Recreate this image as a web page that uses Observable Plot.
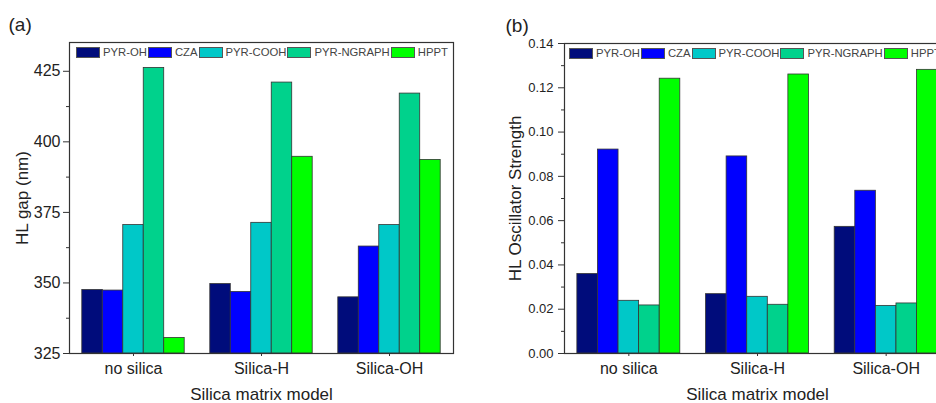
<!DOCTYPE html>
<html>
<head>
<meta charset="utf-8">
<script src="https://cdn.jsdelivr.net/npm/d3@7"></script>
<script src="https://cdn.jsdelivr.net/npm/@observablehq/plot@0.6"></script>
<style>
  html, body { margin: 0; padding: 0; background: #fff; overflow: hidden; }
  #wrap { position: relative; width: 936px; height: 403px; overflow: hidden; font-family: "Liberation Sans", Arial, sans-serif; }
  .panel { position: absolute; top: 0; height: 403px; }
  .panel svg { max-width: none !important; display: block; }
  .legend { position: absolute; display: flex; align-items: center; font-size: 11.3px; color: #444; white-space: nowrap; line-height: 11px; }
  .sw { display: inline-block; width: 22px; height: 9px; border: 1px solid #555; margin-right: 3px; }
  .lab { margin-right: 1px; }
</style>
</head>
<body>
<div id="wrap"></div>
<script>
// ---- data ----
const groups = ["no silica", "Silica-H", "Silica-OH"];
const seriesNames = ["PYR-OH", "CZA", "PYR-COOH", "PYR-NGRAPH", "HPPT"];
const seriesColors = ["#000c7b", "#0000ff", "#00c8c8", "#00d28c", "#00ff00"];

// HL gap (nm), per series, in group order
const gapPYR_OH     = [347.5, 349.6, 344.9];
const gapCZA        = [347.3, 346.8, 362.9];
const gapPYR_COOH   = [370.5, 371.3, 370.5];
const gapPYR_NGRAPH = [426.2, 421.0, 417.1];
const gapHPPT       = [330.5, 394.7, 393.6];

// HL oscillator strength, per series, in group order
const oscPYR_OH     = [0.0359, 0.0268, 0.0572];
const oscCZA        = [0.0921, 0.0890, 0.0735];
const oscPYR_COOH   = [0.0238, 0.0256, 0.0215];
const oscPYR_NGRAPH = [0.0217, 0.0220, 0.0226];
const oscHPPT       = [0.1241, 0.1260, 0.1281];

const gapTicks = [325, 350, 375, 400, 425];
const gapMinor = [337.5, 362.5, 387.5, 412.5];
const oscTicks = [0, 0.02, 0.04, 0.06, 0.08, 0.10, 0.12, 0.14];
const oscMinor = [0.01, 0.03, 0.05, 0.07, 0.09, 0.11, 0.13];

function table(seriesArrays) {
  const rows = [];
  seriesArrays.forEach((vals, si) => {
    vals.forEach((v, gi) => rows.push({group: groups[gi], gi, series: seriesNames[si], si, value: v}));
  });
  return rows;
}
const gapData = table([gapPYR_OH, gapCZA, gapPYR_COOH, gapPYR_NGRAPH, gapHPPT]);
const oscData = table([oscPYR_OH, oscCZA, oscPYR_COOH, oscPYR_NGRAPH, oscHPPT]);

const groupPad = 0.1;
const barW = (1 - 2 * groupPad) / seriesNames.length;

function panel({data, yDomain, ticks, minor, yLabel, tag, width, marginLeft, marginRight, marginTop, yTickFont, yTickPad, yLabelDx, tagDx, fmt}) {
  return Plot.plot({
    width, height: 403,
    marginLeft, marginRight, marginTop, marginBottom: 50,
    style: {fontFamily: '"Liberation Sans", Arial, sans-serif', color: "#222", background: "white", overflow: "visible", maxWidth: "none"},
    x: {type: "linear", domain: [0, groups.length]},
    y: {domain: yDomain},
    color: {domain: seriesNames, range: seriesColors},
    marks: [
      Plot.rect(data, {
        x1: d => d.gi + groupPad + d.si * barW,
        x2: d => d.gi + groupPad + (d.si + 1) * barW,
        y1: yDomain[0],
        y2: "value",
        fill: "series",
        stroke: "#333",
        strokeWidth: 0.8
      }),
      Plot.axisY({ticks, tickSize: 6, tickPadding: yTickPad, tickFormat: fmt, fontSize: yTickFont, label: null, stroke: "#333"}),
      Plot.axisY({ticks: minor, tickSize: 3, tickFormat: () => "", label: null, stroke: "#333"}),
      Plot.axisX({ticks: groups.map((g, i) => i + 0.5), tickFormat: v => groups[Math.floor(v)], tickSize: 3, tickPadding: 6, fontSize: 16, label: null, stroke: "#333"}),
      Plot.frame({stroke: "#333", strokeWidth: 1.2}),
      Plot.text([yLabel], {frameAnchor: "left", dx: yLabelDx, rotate: -90, fontSize: 17, fill: "#222", textAnchor: "middle", lineAnchor: "middle"}),
      Plot.text(["Silica matrix model"], {frameAnchor: "bottom", dy: 41, fontSize: 17, fill: "#222", lineAnchor: "middle"}),
      Plot.text([tag], {frameAnchor: "top-left", dx: tagDx, dy: -18, fontSize: 19, fill: "#222", textAnchor: "start", lineAnchor: "middle"})
    ]
  });
}

function legend(left, top) {
  const el = document.createElement("div");
  el.className = "legend";
  el.style.left = left + "px";
  el.style.top = top + "px";
  seriesNames.forEach((name, i) => {
    const sw = document.createElement("span");
    sw.className = "sw";
    sw.style.background = seriesColors[i];
    const lab = document.createElement("span");
    lab.className = "lab";
    lab.textContent = name;
    el.appendChild(sw);
    el.appendChild(lab);
  });
  return el;
}

const wrap = document.getElementById("wrap");

const pa = document.createElement("div");
pa.className = "panel";
pa.style.left = "0px";
pa.style.width = "470px";
pa.appendChild(panel({
  data: gapData, yDomain: [325, 435.2], ticks: gapTicks, minor: gapMinor,
  yLabel: "HL gap (nm)", tag: "(a)", width: 470, marginLeft: 69, marginRight: 17, marginTop: 42,
  yTickFont: 16, yTickPad: 3, yLabelDx: -46.5, tagDx: -61, fmt: d3.format("d")
}));
pa.appendChild(legend(76, 47));
wrap.appendChild(pa);

const pb = document.createElement("div");
pb.className = "panel";
pb.style.left = "470px";
pb.style.width = "500px";
pb.appendChild(panel({
  data: oscData, yDomain: [0, 0.14], ticks: oscTicks, minor: oscMinor,
  yLabel: "HL Oscillator Strength", tag: "(b)", width: 500, marginLeft: 94, marginRight: 20, marginTop: 43,
  yTickFont: 13, yTickPad: 5, yLabelDx: -48.5, tagDx: -59, fmt: d3.format(".2f")
}));
pb.appendChild(legend(99, 48));
wrap.appendChild(pb);
</script>
</body>
</html>
